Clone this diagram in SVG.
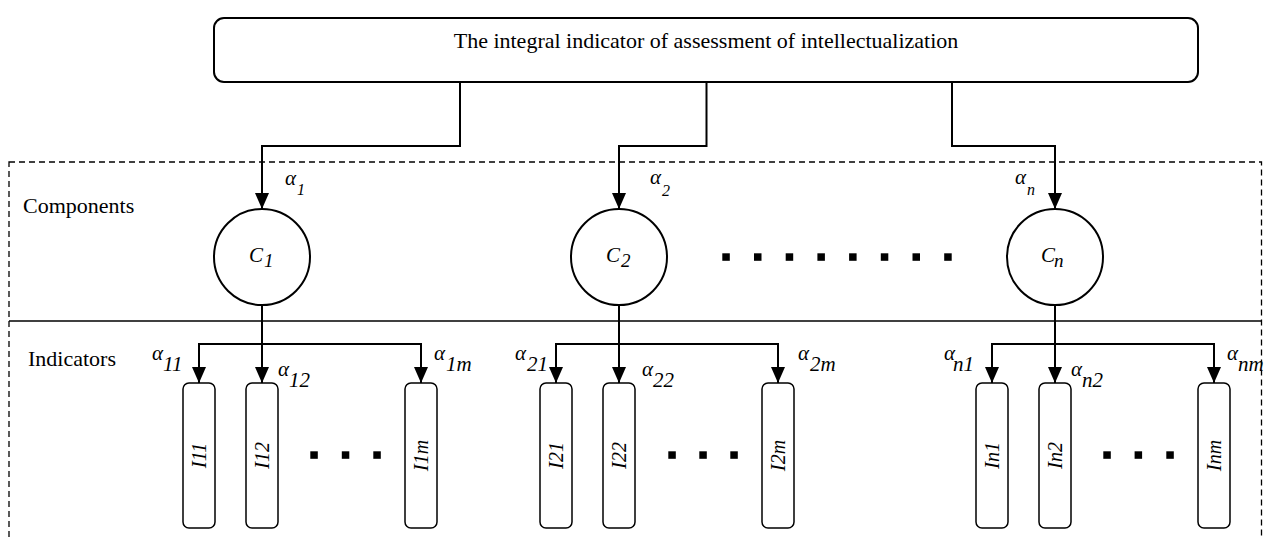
<svg xmlns="http://www.w3.org/2000/svg" width="1264" height="539" viewBox="0 0 1264 539">
<style>
text{font-family:"Liberation Serif","Times New Roman",serif;fill:#000}
.t{font-size:22px}
.a{font-size:21px;font-style:italic}
.sb{font-size:21px;font-style:italic}
.st{font-size:16px;font-style:italic}
.cl{font-size:21px;font-style:italic}
.cs{font-size:19px;font-style:italic}
.ri{font-size:21px;font-style:italic}
.box{fill:#fff;stroke:#000;stroke-width:2}
.circ{fill:#fff;stroke:#000;stroke-width:2}
.ind{fill:#fff;stroke:#000;stroke-width:1.5}
.con{fill:none;stroke:#000;stroke-width:2;marker-end:url(#arr)}
.dash{fill:none;stroke:#000;stroke-width:1.3;stroke-dasharray:6 4}
.div{stroke:#000;stroke-width:1.5}
.dot{fill:#000}
</style>
<defs>
<marker id="arr" markerUnits="userSpaceOnUse" markerWidth="16" markerHeight="14" refX="16" refY="7" orient="auto">
<path d="M0,0 L16,7 L0,14 z" fill="#000"/>
</marker>
</defs>
<rect width="1264" height="539" fill="#fff"/>
<g id="regions">
<rect class="dash" x="9" y="162" width="1252.5" height="400"/>
<line class="div" x1="9" y1="321" x2="1261.5" y2="321"/>
<text class="t" x="23" y="213">Components</text>
<text class="t" x="28" y="366">Indicators</text>
</g>
<g id="connectors">
<path class="con" d="M460,82 V146 H262 V209"/>
<path class="con" d="M706.5,82 V146 H619 V209"/>
<path class="con" d="M952,82 V146 H1055 V209"/>
<path class="con" d="M262,305 V383"/>
<path class="con" d="M262,344 H199 V383"/>
<path class="con" d="M262,344 H421 V383"/>
<path class="con" d="M619,305 V383"/>
<path class="con" d="M619,344 H556 V383"/>
<path class="con" d="M619,344 H778 V383"/>
<path class="con" d="M1055,305 V383"/>
<path class="con" d="M1055,344 H992 V383"/>
<path class="con" d="M1055,344 H1214 V383"/>
</g>
<g id="labels">
<text class="a" x="285" y="185">α</text><text class="st" x="297" y="195">1</text>
<text class="a" x="650" y="184">α</text><text class="st" x="662" y="196">2</text>
<text class="a" x="1015" y="184">α</text><text class="st" x="1027" y="195">n</text>
<text class="a" x="152" y="360">α</text><text class="sb" x="163" y="371">11</text>
<text class="a" x="278" y="376">α</text><text class="sb" x="289" y="387">12</text>
<text class="a" x="434" y="360">α</text><text class="sb" x="446" y="371">1m</text>
<text class="a" x="515" y="360">α</text><text class="sb" x="527" y="371">21</text>
<text class="a" x="642" y="376">α</text><text class="sb" x="653" y="387">22</text>
<text class="a" x="798" y="360">α</text><text class="sb" x="810" y="371">2m</text>
<text class="a" x="944" y="360">α</text><text class="sb" x="953" y="371">n1</text>
<text class="a" x="1071" y="376">α</text><text class="sb" x="1082" y="387">n2</text>
<text class="a" x="1227" y="360">α</text><text class="sb" x="1238" y="371">nm</text>
</g>
<g id="top">
<rect class="box" x="214" y="18" width="984" height="64" rx="10"/>
<text class="t" x="706" y="48" text-anchor="middle">The integral indicator of assessment of intellectualization</text>
</g>
<g id="c1">
<circle class="circ" cx="262" cy="257" r="48"/>
<text x="249" y="261.5"><tspan class="cl">C</tspan><tspan class="cs" x="264" y="267">1</tspan></text>
</g>
<g id="c2">
<circle class="circ" cx="619" cy="257" r="48"/>
<text x="606" y="261.5"><tspan class="cl">C</tspan><tspan class="cs" x="621" y="267">2</tspan></text>
</g>
<g id="cdots">
<rect class="dot" x="722.3" y="253.3" width="7.5" height="7.5"/>
<rect class="dot" x="754" y="253.3" width="7.5" height="7.5"/>
<rect class="dot" x="785.7" y="253.3" width="7.5" height="7.5"/>
<rect class="dot" x="817.4" y="253.3" width="7.5" height="7.5"/>
<rect class="dot" x="849.1" y="253.3" width="7.5" height="7.5"/>
<rect class="dot" x="880.8" y="253.3" width="7.5" height="7.5"/>
<rect class="dot" x="912.5" y="253.3" width="7.5" height="7.5"/>
<rect class="dot" x="944.2" y="253.3" width="7.5" height="7.5"/>
</g>
<g id="cn">
<circle class="circ" cx="1055" cy="257" r="48"/>
<text x="1041" y="261.5"><tspan class="cl">C</tspan><tspan class="cs" x="1054" y="267">n</tspan></text>
</g>
<g id="i11"><rect class="ind" x="183" y="383" width="32" height="145" rx="6"/><text class="ri" transform="translate(206,455.5) rotate(-90)" text-anchor="middle">I<tspan font-size="20">11</tspan></text></g>
<g id="i12"><rect class="ind" x="246" y="383" width="32" height="145" rx="6"/><text class="ri" transform="translate(269,455.5) rotate(-90)" text-anchor="middle">I<tspan font-size="20">12</tspan></text></g>
<g id="i1dots">
<rect class="dot" x="310.3" y="451.3" width="7.5" height="7.5"/>
<rect class="dot" x="341.8" y="451.3" width="7.5" height="7.5"/>
<rect class="dot" x="373.3" y="451.3" width="7.5" height="7.5"/>
</g>
<g id="i1m"><rect class="ind" x="405" y="383" width="32" height="145" rx="6"/><text class="ri" transform="translate(428,455.5) rotate(-90)" text-anchor="middle">I<tspan font-size="20">1m</tspan></text></g>
<g id="i21"><rect class="ind" x="540" y="383" width="32" height="145" rx="6"/><text class="ri" transform="translate(563,455.5) rotate(-90)" text-anchor="middle">I<tspan font-size="20">21</tspan></text></g>
<g id="i22"><rect class="ind" x="603" y="383" width="32" height="145" rx="6"/><text class="ri" transform="translate(626,455.5) rotate(-90)" text-anchor="middle">I<tspan font-size="20">22</tspan></text></g>
<g id="i2dots">
<rect class="dot" x="668.3" y="451.3" width="7.5" height="7.5"/>
<rect class="dot" x="699.3" y="451.3" width="7.5" height="7.5"/>
<rect class="dot" x="730.3" y="451.3" width="7.5" height="7.5"/>
</g>
<g id="i2m"><rect class="ind" x="762" y="383" width="32" height="145" rx="6"/><text class="ri" transform="translate(785,455.5) rotate(-90)" text-anchor="middle">I<tspan font-size="20">2m</tspan></text></g>
<g id="in1"><rect class="ind" x="976" y="383" width="32" height="145" rx="6"/><text class="ri" transform="translate(999,455.5) rotate(-90)" text-anchor="middle">I<tspan font-size="20">n1</tspan></text></g>
<g id="in2"><rect class="ind" x="1039" y="383" width="32" height="145" rx="6"/><text class="ri" transform="translate(1062,455.5) rotate(-90)" text-anchor="middle">I<tspan font-size="20">n2</tspan></text></g>
<g id="indots">
<rect class="dot" x="1103.3" y="451.3" width="7.5" height="7.5"/>
<rect class="dot" x="1134.6" y="451.3" width="7.5" height="7.5"/>
<rect class="dot" x="1166.3" y="451.3" width="7.5" height="7.5"/>
</g>
<g id="inm"><rect class="ind" x="1198" y="383" width="32" height="145" rx="6"/><text class="ri" transform="translate(1221,455.5) rotate(-90)" text-anchor="middle">I<tspan font-size="20">nm</tspan></text></g>
</svg>
